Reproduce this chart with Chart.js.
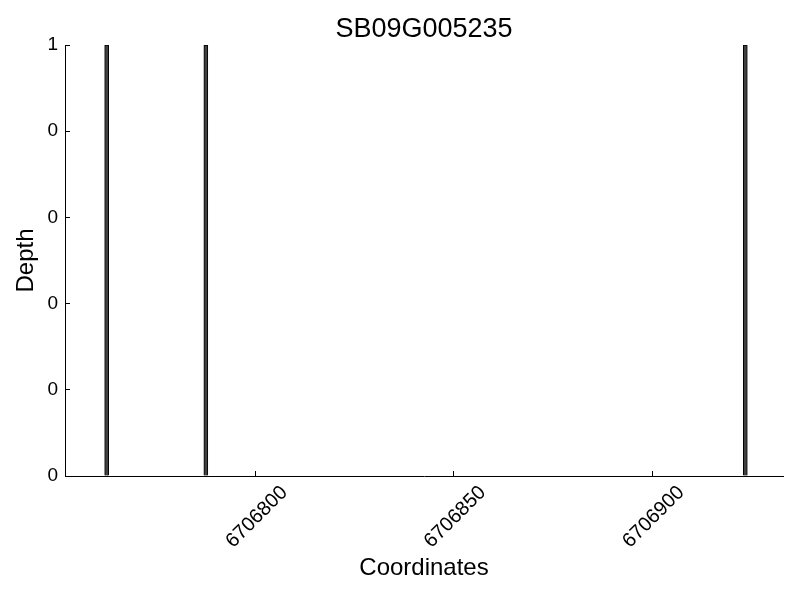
<!DOCTYPE html>
<html>
<head>
<meta charset="utf-8">
<script src="https://cdn.jsdelivr.net/npm/chart.js@4/dist/chart.umd.min.js"></script>
<style>
html,body{margin:0;padding:0;background:#fff;}
#wrap{width:800px;height:600px;}
</style>
</head>
<body>
<div id="wrap"><canvas id="c" width="800" height="600"></canvas></div>
<script>
const chartTitle = 'SB09G005235';
const positions = [6706762, 6706787, 6706923];
const depths = [1, 1, 1];
const xTickValues = [6706800, 6706850, 6706900];
const xTickLabels = ['6706800', '6706850', '6706900'];
const yTickValues = [0, 0.2, 0.4, 0.6, 0.8, 1];
const yTickLabels = ['0', '0', '0', '0', '0', '1'];
const xRange = [6706752, 6706933];
const yRange = [0, 1];

const FONT = "'Liberation Sans', Arial, Helvetica, sans-serif";
const points = positions.map((p, i) => ({x: p + 0.5, y: depths[i]}));

// center the title over the plot area (like matplotlib)
const centerTitle = {
  id: 'centerTitle',
  afterLayout(chart) {
    const t = chart.titleBlock;
    if (t) {
      t.left = chart.chartArea.left;
      t.right = chart.chartArea.right;
      t.width = t.right - t.left;
    }
  }
};

new Chart(document.getElementById('c'), {
  type: 'bar',
  data: {
    datasets: [{
      data: points,
      backgroundColor: '#404040',
      borderColor: '#000000',
      borderWidth: 1,
      barThickness: 4
    }]
  },
  plugins: [centerTitle],
  options: {
    responsive: false,
    animation: false,
    devicePixelRatio: 1,
    layout: {padding: {left: 0, right: 17, top: 0, bottom: 0}},
    plugins: {
      legend: {display: false},
      tooltip: {enabled: false},
      title: {
        display: true,
        text: chartTitle,
        color: '#000',
        font: {family: FONT, size: 27, weight: 'normal', lineHeight: 1.0},
        padding: {top: 16.5, bottom: 1.5}
      }
    },
    scales: {
      x: {
        type: 'linear',
        min: xRange[0],
        max: xRange[1],
        offset: false,
        afterBuildTicks: s => { s.ticks = xTickValues.map(v => ({value: v})); },
        afterFit: s => { s.height = 124; },
        grid: {display: true, offset: false, drawOnChartArea: false, drawTicks: true, tickLength: -5, color: '#000', lineWidth: 1},
        border: {display: true, color: '#000', width: 1},
        ticks: {
          autoSkip: false,
          maxRotation: 45,
          minRotation: 45,
          labelOffset: 29,
          padding: 10,
          color: '#000',
          font: {family: FONT, size: 20},
          callback: (v) => { const i = xTickValues.indexOf(v); return i >= 0 ? xTickLabels[i] : ''; }
        },
        title: {
          display: true,
          text: 'Coordinates',
          color: '#000',
          font: {family: FONT, size: 24},
          padding: {top: 0, bottom: 17}
        }
      },
      y: {
        type: 'linear',
        min: yRange[0],
        max: yRange[1],
        afterBuildTicks: s => { s.ticks = yTickValues.map(v => ({value: v})); },
        afterFit: s => { s.width = 65; },
        grid: {display: true, offset: false, drawOnChartArea: false, drawTicks: true, tickLength: -5, color: '#000', lineWidth: 1},
        border: {display: true, color: '#000', width: 1},
        ticks: {
          autoSkip: false,
          padding: 12,
          color: '#000',
          font: {family: FONT, size: 19},
          callback: (v) => { const i = yTickValues.findIndex(t => Math.abs(t - v) < 1e-9); return i >= 0 ? yTickLabels[i] : ''; }
        },
        title: {
          display: true,
          text: 'Depth',
          color: '#000',
          font: {family: FONT, size: 24},
          padding: {top: 12, bottom: 0}
        }
      }
    }
  }
});
</script>
</body>
</html>
